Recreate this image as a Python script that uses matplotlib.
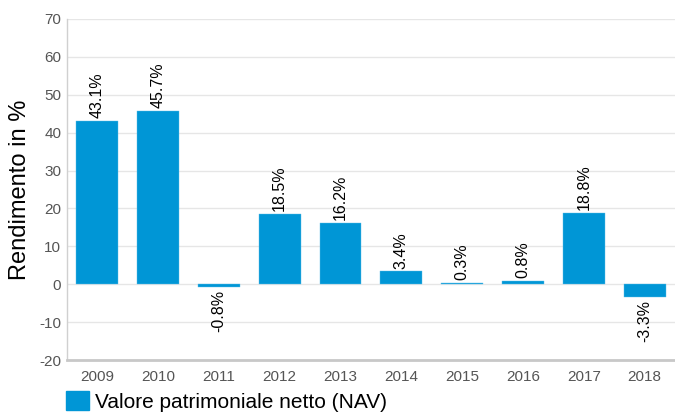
import matplotlib.pyplot as plt
import matplotlib.patches as mpatches

years = ["2009", "2010", "2011", "2012", "2013", "2014", "2015", "2016", "2017", "2018"]
nav_returns = [43.1, 45.7, -0.8, 18.5, 16.2, 3.4, 0.3, 0.8, 18.8, -3.3]
y_ticks = [-20, -10, 0, 10, 20, 30, 40, 50, 60, 70]

plt.rcParams['font.family'] = ['Liberation Sans', 'DejaVu Sans']
plt.rcParams['axes.unicode_minus'] = False

bar_color = "#0096d6"

fig = plt.figure(figsize=(6.75, 4.12), dpi=100)
ax = fig.add_axes([0.099, 0.126, 0.901, 0.828])

x = list(range(len(years)))
ax.bar(x, nav_returns, width=0.69, color=bar_color, edgecolor="#5cbde8", linewidth=0.3, zorder=3)

for xi, v in zip(x, nav_returns):
    if v >= 0:
        ax.annotate(f"{v:.1f}%", (xi, v), xytext=(0, 2), textcoords="offset points",
                    rotation=90, ha="center", va="bottom", fontsize=11.5, color="black")
    else:
        ax.annotate(f"{v:.1f}%", (xi, v), xytext=(0, -2), textcoords="offset points",
                    rotation=90, ha="center", va="top", fontsize=11.5, color="black")

ax.set_xlim(-0.5, len(years) - 0.5)
ax.set_ylim(-20, 70)
ax.set_yticks(y_ticks)
ax.set_xticks(x)
ax.set_xticklabels(years)
ax.grid(axis="y", color="#e6e6e6", linewidth=1, zorder=0)
ax.tick_params(axis="both", length=0, labelsize=11, labelcolor="#555555")
ax.tick_params(axis="x", pad=7)
ax.tick_params(axis="y", pad=4)

for s in ["top", "right"]:
    ax.spines[s].set_visible(False)
ax.spines["left"].set_color("#d0d0d0")
ax.spines["left"].set_linewidth(1)
ax.spines["bottom"].set_color("#c8c8c8")
ax.spines["bottom"].set_linewidth(2)

ax.set_ylabel("Rendimento in %", fontsize=17, color="black", labelpad=6)

handle = mpatches.Patch(color=bar_color, label="Valore patrimoniale netto (NAV)")
fig.legend(handles=[handle], loc="lower left", bbox_to_anchor=(0.085, -0.02), frameon=False,
           fontsize=15, handlelength=1.1, handleheight=1.0, handletextpad=0.3, borderaxespad=0)

fig.savefig("out.png", dpi=100)
